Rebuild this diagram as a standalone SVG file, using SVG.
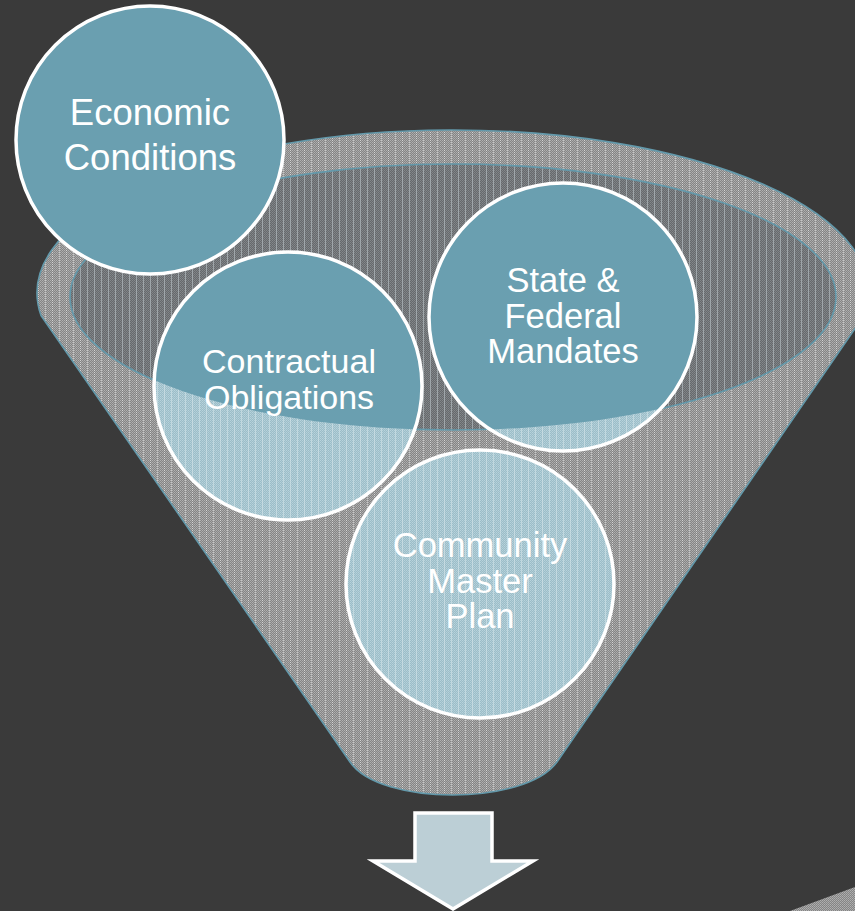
<svg xmlns="http://www.w3.org/2000/svg" width="855" height="911" viewBox="0 0 855 911">
  <defs>
    <!-- dithered grey for the funnel body and rim -->
    <pattern id="grain" width="2" height="2" patternUnits="userSpaceOnUse">
      <rect width="2" height="2" fill="#858585"/>
      <rect x="0" y="0" width="1" height="1" fill="#b0b0b0"/>
      <rect x="1" y="1" width="1" height="1" fill="#a6a6a6"/>
    </pattern>
    <pattern id="grainLines" width="7" height="2" patternUnits="userSpaceOnUse">
      <rect x="3" y="0" width="1" height="1" fill="#dddddd" opacity="0.75"/>
    </pattern>
    <!-- darker grey seen through the funnel mouth -->
    <pattern id="dark" width="2" height="2" patternUnits="userSpaceOnUse">
      <rect width="2" height="2" fill="#66696c"/>
      <rect x="0" y="0" width="1" height="1" fill="#84888b"/>
      <rect x="1" y="1" width="1" height="1" fill="#7d8184"/>
    </pattern>
    <pattern id="darkLines" width="7" height="2" patternUnits="userSpaceOnUse">
      <rect x="3" y="0" width="1" height="2" fill="#aab1b5" opacity="0.8"/>
    </pattern>
    <!-- pale blue for circle parts behind the funnel wall -->
    <pattern id="blue" width="2" height="2" patternUnits="userSpaceOnUse">
      <rect width="2" height="2" fill="#9bbdc8"/>
      <rect x="0" y="0" width="1" height="1" fill="#b8d3dc"/>
      <rect x="1" y="1" width="1" height="1" fill="#b0ccd5"/>
    </pattern>
    <pattern id="blueLines" width="7" height="2" patternUnits="userSpaceOnUse">
      <rect x="3" y="0" width="1" height="2" fill="#d4e5ea" opacity="0.6"/>
    </pattern>
    <clipPath id="mouth">
      <ellipse cx="453" cy="297" rx="383" ry="133"/>
    </clipPath>
    <style>
      .edge { stroke: #6399ab; stroke-width: 1.6; }
      .ring { stroke: #ffffff; stroke-width: 3.5; fill: none; }
      .solid { fill: #6a9fb0; }
      .label { font-family: "Liberation Sans", Arial, sans-serif; fill: #ffffff; text-anchor: middle; font-size: 34.5px; }
    </style>
  </defs>

  <rect width="855" height="911" fill="#3a3a3a"/>

  <!-- funnel: rim and cone -->
  <g id="funnel">
    <path d="M41,315.5 L350,762 C380,806 525,806 557,762 L866,312.6 A416,163 0 1 0 41,315.5 Z" fill="url(#grain)"/>
    <path d="M41,315.5 L350,762 C380,806 525,806 557,762 L866,312.6 A416,163 0 1 0 41,315.5 Z" fill="url(#grainLines)" class="edge"/>
    <ellipse cx="453" cy="297" rx="383" ry="133" fill="url(#dark)"/>
    <ellipse cx="453" cy="297" rx="383" ry="133" fill="url(#darkLines)" class="edge"/>
  </g>

  <!-- corner fragment -->
  <polygon points="790,911 855,887 855,911" fill="url(#grain)"/>

  <g id="contractual">
    <circle cx="288" cy="386" r="134" fill="url(#blue)"/>
    <circle cx="288" cy="386" r="134" fill="url(#blueLines)"/>
    <circle cx="288" cy="386" r="134" class="solid" clip-path="url(#mouth)"/>
    <circle cx="288" cy="386" r="134" class="ring"/>
    <text class="label" x="289" y="373" style="font-size:34px">Contractual</text>
    <text class="label" x="289" y="409" style="font-size:34px">Obligations</text>
  </g>

  <g id="mandates">
    <circle cx="563" cy="317" r="134" fill="url(#blue)"/>
    <circle cx="563" cy="317" r="134" fill="url(#blueLines)"/>
    <circle cx="563" cy="317" r="134" class="solid" clip-path="url(#mouth)"/>
    <circle cx="563" cy="317" r="134" class="ring"/>
    <text class="label" x="563" y="292">State &amp;</text>
    <text class="label" x="563" y="328">Federal</text>
    <text class="label" x="563" y="363">Mandates</text>
  </g>

  <g id="community">
    <circle cx="480" cy="584" r="134" fill="url(#blue)"/>
    <circle cx="480" cy="584" r="134" fill="url(#blueLines)"/>
    <circle cx="480" cy="584" r="134" class="ring"/>
    <text class="label" x="480" y="557">Community</text>
    <text class="label" x="480" y="593">Master</text>
    <text class="label" x="480" y="628">Plan</text>
  </g>

  <g id="economic">
    <circle cx="150" cy="140" r="134" class="solid"/>
    <circle cx="150" cy="140" r="134" class="ring"/>
    <text class="label" x="150" y="125" style="font-size:36.5px">Economic</text>
    <text class="label" x="150" y="170" style="font-size:36.5px">Conditions</text>
  </g>

  <g id="connectors">
    <path id="outArrow" d="M415,813 H492 V861 H533 L453,909 L373,861 H415 Z" fill="#bccfd6" stroke="#ffffff" stroke-width="3.5" stroke-linejoin="miter"/>
  </g>
</svg>
